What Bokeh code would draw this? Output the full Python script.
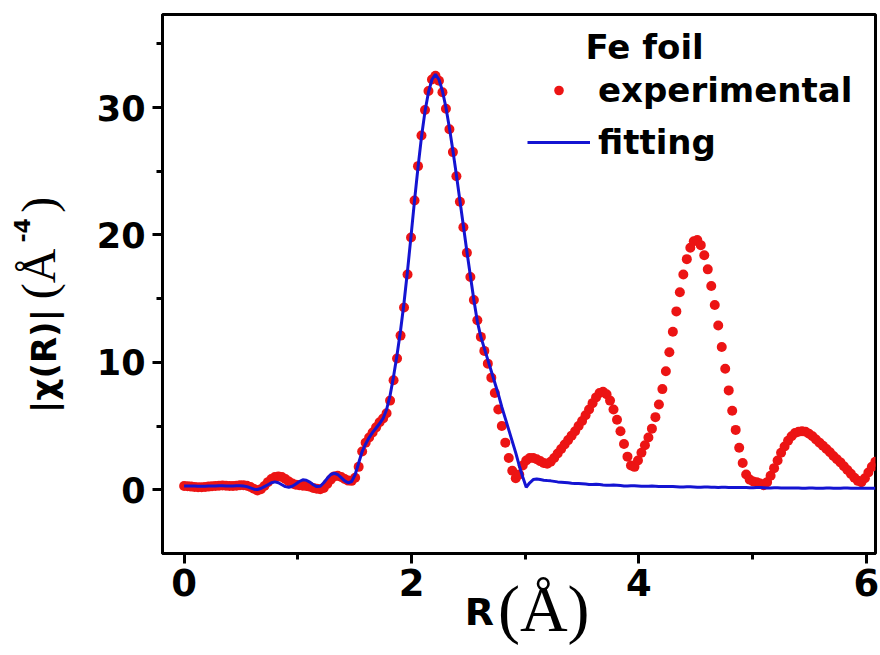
import numpy as np
from bokeh.plotting import figure
from bokeh.models import Range1d, FixedTicker, Label, Legend, LegendItem, LinearAxis
from bokeh.embed import file_html
from bokeh.resources import INLINE

# R grid step of the Fourier transform (Angstrom)
dR = 0.0307

# |chi(R)| of the Fe foil, experimental, one value per grid point
chi_exp = [
    0.30, 0.28, 0.25, 0.22, 0.20, 0.20, 0.22, 0.25, 0.28, 0.30,
    0.32, 0.33, 0.32, 0.30, 0.30, 0.32, 0.35, 0.36, 0.32, 0.22,
    0.08, -0.05, 0.05, 0.30, 0.60, 0.85, 1.00, 1.05, 1.00, 0.85,
    0.65, 0.50, 0.40, 0.35, 0.32, 0.30, 0.25, 0.15, 0.08, 0.05,
    0.15, 0.45, 0.80, 1.05, 1.10, 1.00, 0.85, 0.72, 0.70, 0.95,
    1.80, 3.00, 3.70, 4.10, 4.50, 4.90, 5.30, 5.60, 6.00, 7.00,
    8.60, 10.30, 12.10, 14.30, 16.90, 19.80, 22.70, 25.40, 27.80, 29.80,
    31.30, 32.20, 32.50, 32.10, 31.20, 29.90, 28.30, 26.50, 24.60, 22.60,
    20.60, 18.60, 16.70, 14.90, 13.30, 12.00, 10.90, 9.90, 8.80, 7.60,
    6.30, 5.00, 3.70, 2.50, 1.50, 0.90, 1.20, 1.90, 2.30, 2.50,
    2.50, 2.40, 2.25, 2.10, 2.05, 2.20, 2.50, 2.85, 3.20, 3.55,
    3.90, 4.25, 4.60, 5.00, 5.40, 5.85, 6.30, 6.80, 7.25, 7.60,
    7.70, 7.50, 7.00, 6.30, 5.50, 4.60, 3.60, 2.60, 1.90, 1.80,
    2.30, 2.90, 3.50, 4.10, 4.80, 5.70, 6.70, 7.90, 9.30, 10.80,
    12.40, 14.00, 15.50, 16.90, 18.10, 19.00, 19.50, 19.60, 19.20, 18.40,
    17.30, 16.00, 14.50, 12.90, 11.20, 9.50, 7.80, 6.20, 4.70, 3.30,
    2.10, 1.20, 0.80, 0.65, 0.60, 0.50, 0.35, 0.60, 1.10, 1.70,
    2.30, 2.90, 3.40, 3.85, 4.20, 4.45, 4.55, 4.60, 4.55, 4.40,
    4.20, 3.95, 3.70, 3.45, 3.20, 2.95, 2.65, 2.40, 2.15, 1.85,
    1.55, 1.25, 0.95, 0.70, 0.60, 0.90, 1.35, 1.80, 2.20,
]

# |chi(R)| of the first-shell fit on the same grid
chi_fit = [
    0.30, 0.30, 0.30, 0.29, 0.28, 0.28, 0.28, 0.29, 0.30, 0.30,
    0.31, 0.31, 0.30, 0.30, 0.30, 0.31, 0.32, 0.30, 0.25, 0.15,
    0.05, 0.02, 0.10, 0.25, 0.40, 0.55, 0.62, 0.55, 0.40, 0.25,
    0.20, 0.28, 0.45, 0.65, 0.78, 0.75, 0.60, 0.40, 0.25, 0.28,
    0.55, 0.90, 1.20, 1.30, 1.20, 0.95, 0.70, 0.55, 0.65, 1.20,
    2.10, 3.00, 3.60, 4.10, 4.50, 4.85, 5.20, 5.60, 6.30, 7.40,
    8.90, 10.60, 12.50, 14.70, 17.20, 19.90, 22.70, 25.30, 27.70, 29.70,
    31.20, 32.20, 32.60, 32.20, 31.30, 30.00, 28.40, 26.60, 24.70, 22.70,
    20.70, 18.70, 16.80, 14.90, 13.20, 12.00, 11.10, 10.20, 9.30, 8.40,
    7.50, 6.50, 5.60, 4.70, 3.80, 2.90, 1.90, 1.00, 0.20, 0.55,
    0.80, 0.85, 0.80, 0.75, 0.72, 0.70, 0.66, 0.62, 0.60, 0.58,
    0.55, 0.52, 0.50, 0.50, 0.48, 0.45, 0.42, 0.42, 0.44, 0.42,
    0.38, 0.35, 0.35, 0.37, 0.36, 0.33, 0.30, 0.30, 0.32, 0.32,
    0.30, 0.28, 0.27, 0.28, 0.29, 0.28, 0.26, 0.25, 0.25, 0.26,
    0.26, 0.24, 0.22, 0.22, 0.23, 0.23, 0.22, 0.20, 0.20, 0.21,
    0.21, 0.20, 0.19, 0.18, 0.19, 0.19, 0.18, 0.17, 0.17, 0.18,
    0.18, 0.17, 0.16, 0.16, 0.17, 0.17, 0.16, 0.15, 0.15, 0.16,
    0.16, 0.15, 0.14, 0.14, 0.15, 0.15, 0.14, 0.13, 0.13, 0.14,
    0.14, 0.13, 0.13, 0.13, 0.14, 0.14, 0.13, 0.13, 0.13, 0.14,
    0.14, 0.13, 0.13, 0.13, 0.13, 0.13, 0.13, 0.13, 0.13,
]

x_ticks = [0, 2, 4, 6]
x_minor = [1, 3, 5]
y_ticks = [0, 10, 20, 30]
y_minor = [5, 15, 25, 35]

r_exp = np.arange(len(chi_exp)) * dR
r_fit = np.arange(len(chi_fit)) * dR

W, H = 880, 655
FRAME_LEFT, FRAME_TOP, FRAME_RIGHT, FRAME_BOTTOM = 162, 14, 875, 553
X_START, X_END = -0.19, 6.08
Y_START, Y_END = -5.0, 37.3
NBSP = "\u00a0"


def at(px, py):
    """Canvas pixel -> data coordinates of the frame."""
    fx = (X_END - X_START) / (FRAME_RIGHT - FRAME_LEFT)
    fy = (Y_END - Y_START) / (FRAME_BOTTOM - FRAME_TOP)
    return X_START + (px - FRAME_LEFT) * fx, Y_END - (py - FRAME_TOP) * fy


p = figure(width=W, height=H, output_backend="svg", toolbar_location=None,
           x_range=Range1d(X_START, X_END), y_range=Range1d(Y_START, Y_END),
           min_border_left=FRAME_LEFT, min_border_right=W - FRAME_RIGHT,
           min_border_top=FRAME_TOP, min_border_bottom=H - FRAME_BOTTOM)
p.background_fill_color = "white"
p.border_fill_color = "white"
p.xgrid.visible = False
p.ygrid.visible = False
p.outline_line_color = "black"
p.outline_line_width = 3
p.outline_line_alpha = 1.0

p.xaxis.ticker = FixedTicker(ticks=x_ticks, minor_ticks=x_minor)
p.yaxis.ticker = FixedTicker(ticks=y_ticks, minor_ticks=y_minor)
for ax in (p.xaxis[0], p.yaxis[0]):
    ax.axis_line_width = 3
    ax.axis_line_color = "black"
    ax.major_tick_line_width = 3
    ax.minor_tick_line_width = 3
    ax.major_tick_line_color = "black"
    ax.minor_tick_line_color = "black"
    ax.major_tick_in = 0
    ax.major_tick_out = 10
    ax.minor_tick_in = 0
    ax.minor_tick_out = 6
    ax.major_label_text_font = "DejaVu Sans"
    ax.major_label_text_font_style = "bold"
    ax.major_label_text_color = "black"
p.xaxis.major_label_text_font_size = "37px"
p.yaxis.major_label_text_font_size = "35px"
p.xaxis.major_label_standoff = 5
p.yaxis.major_label_standoff = 7


def title_axis(text, font, style, size, standoff):
    """A bare axis (no line, ticks or tick labels) that only carries a title piece."""
    return LinearAxis(ticker=FixedTicker(ticks=[]), axis_line_color=None,
                      major_tick_out=0, major_tick_in=0, minor_tick_out=0, minor_tick_in=0,
                      major_label_text_font_size="0px", major_label_standoff=0,
                      axis_label=text, axis_label_text_font=font,
                      axis_label_text_font_style=style, axis_label_text_font_size=size,
                      axis_label_text_color="black", axis_label_standoff=standoff)


# x title: bold "R" on the main axis, serif "(Å)" on a bare axis below it;
# no-break spaces shift each piece away from the centre of the frame
xax = p.xaxis[0]
xax.axis_label = "R" + NBSP * 6
xax.axis_label_text_font = "DejaVu Sans"
xax.axis_label_text_font_style = "bold"
xax.axis_label_text_font_size = "38px"
xax.axis_label_text_color = "black"
xax.axis_label_standoff = -9
p.add_layout(title_axis(NBSP * 3 + "(Å)", "Liberation Serif", "normal", "66px", -65), "below")

# y title: bold "|χ(R)|" on the main axis, then the serif unit and its exponent
yax = p.yaxis[0]
yax.axis_label = "|χ(R)|" + NBSP * 13
yax.axis_label_text_font = "DejaVu Sans"
yax.axis_label_text_font_style = "bold"
yax.axis_label_text_font_size = "34px"
yax.axis_label_text_color = "black"
yax.axis_label_standoff = 30
p.add_layout(title_axis(NBSP * 6 + "(Å" + NBSP * 3 + ")", "Liberation Serif", "normal",
                        "48px", -44), "left")
p.add_layout(title_axis(NBSP * 14 + "-4", "DejaVu Sans", "bold", "22px", -26), "left")

exp_r = p.scatter(r_exp, chi_exp, size=10, fill_color="#ec1414", line_color=None)
fit_r = p.line(r_fit, chi_fit, line_width=3, line_color="#1414d2")

legend = Legend(
    items=[LegendItem(label="experimental", renderers=[exp_r]),
           LegendItem(label="fitting", renderers=[fit_r])],
    location=(365, 391), padding=0, margin=0, spacing=12,
    glyph_width=63, glyph_height=24, label_height=24, label_standoff=8,
    label_text_font="DejaVu Sans", label_text_font_style="bold",
    label_text_font_size="34px", label_text_color="black",
    border_line_alpha=0, background_fill_alpha=0,
)
p.add_layout(legend)

lx, ly = at(585, 46)
p.add_layout(Label(x=lx, y=ly, text="Fe foil", text_font="DejaVu Sans",
                   text_font_style="bold", text_font_size="34px",
                   text_baseline="middle", text_color="black"))

open("out.html", "w").write(file_html(p, INLINE))
